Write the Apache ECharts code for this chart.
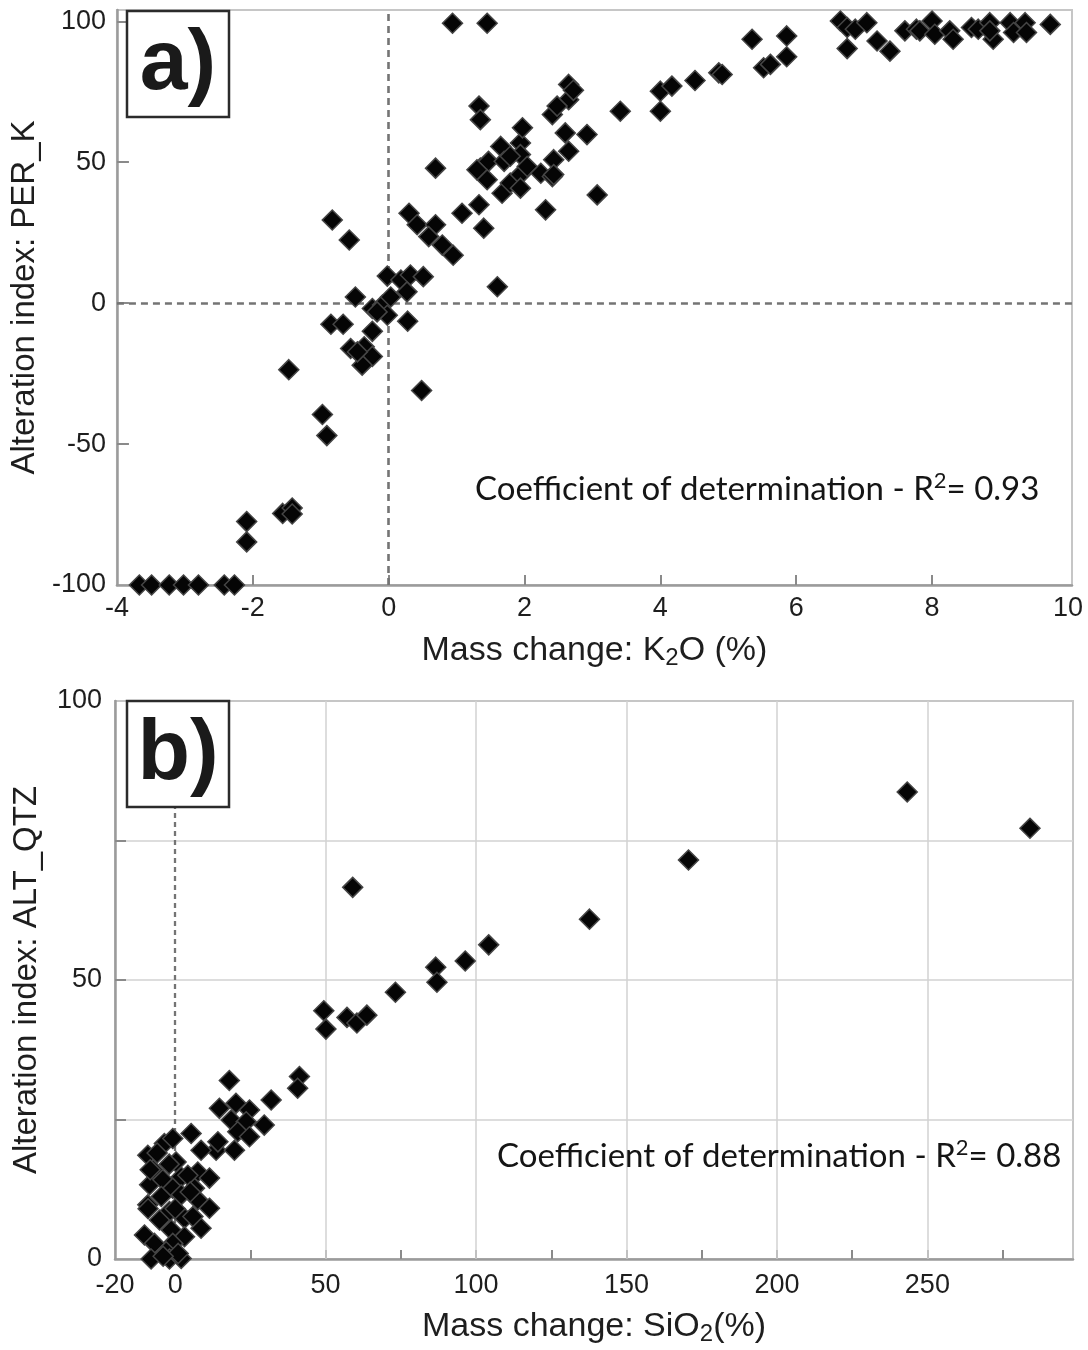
<!DOCTYPE html>
<html>
<head>
<meta charset="utf-8">
<script src="https://cdn.jsdelivr.net/npm/echarts@6/dist/echarts.min.js"></script>
<style>
html,body{margin:0;padding:0;background:#fff;}
#chart{width:1088px;height:1350px;}
</style>
</head>
<body>
<div id="chart"></div>
<script>
// ---------- Panel a: K2O mass change vs PER_K ----------
const k2oChange = [
  -3.67,-3.49,-3.23,-3.02,-2.80,-2.42,-2.27,
  -2.09,-2.09,-1.56,-1.42,-1.42,-0.975,-0.91,-1.47,0.485,
  -0.85,-0.67,-0.49,-0.24,-0.56,-0.36,-0.24,-0.39,-0.46,
  -0.24,-0.09,-0.02,0.03,-0.17,-0.02,0.18,0.32,0.51,0.27,0.28,
  1.60,0.95,0.69,0.30,0.42,0.69,0.59,0.79,
  1.08,1.33,1.40,
  1.35,1.47,1.65,1.70,1.45,1.67,1.79,1.94,1.94,1.94,1.94,2.04,2.24,2.41,2.43,2.65,2.60,2.92,
  2.31,3.07,0.94,1.45,1.33,1.35,
  1.97,1.79,1.30,2.43,2.65,2.41,2.48,2.65,2.72,
  -0.83,-0.58,
  3.41,4.00,4.00,4.17,4.51,4.86,4.91,5.35,5.52,5.62,5.86,5.86,
  6.65,6.75,6.87,7.04,6.75,7.19,7.38,7.60,7.77,7.82,8.00,8.04,8.26,8.31,
  8.58,8.68,8.85,8.90,8.85,9.15,9.20,9.37,9.39,9.74
];
const perK = [
  -100,-100,-100,-100,-100,-100,-100,
  -77.5,-84.7,-74.6,-72.7,-74.8,-39.5,-47,-23.6,-31,
  -7.5,-7.5,2.2,-10,-16.1,-15.5,-18.9,-22,-17.3,
  -1.9,-0.7,-4.3,2.2,-3.1,9.6,8.2,10,9.4,4,-6.4,
  5.8,17,47.9,31.9,27.8,27.8,23.6,20.6,
  31.9,34.9,26.6,
  47.9,50.3,55.6,50.3,43.8,39,42.6,56.8,52.7,45.6,40.8,48.5,46.1,44.9,50.9,53.9,60.4,59.8,
  33.1,38.4,99.3,99.3,69.9,65.1,
  62.2,52.1,47.3,45.6,72.2,66.9,69.9,77.6,75.5,
  29.5,22.4,
  68.1,68.1,75.2,77,79,81.7,81.1,93.6,83.5,84.7,94.8,87.4,
  100.1,97.8,97.2,99.5,90.3,93,89.4,96.6,97.2,96.6,100.1,95.4,96.6,93.6,
  97.8,97.2,99.5,93.6,96.6,99.5,96,99.5,96,98.9
];
const aXLabels = [-4,-2,0,2,4,6,8,10];
const aXTicks = [-2,0,2,4,6,8];
const aYLabels = [-100,-50,0,50,100];
const aYTicks = [-50,0,50,100];
const aRefLines = [0];

// ---------- Panel b: SiO2 mass change vs ALT_QTZ ----------
const sio2Change = [
  284.1,243.3,170.6,137.7,104.2,96.4,86.6,87.0,73.2,59.0,
  49.4,50.1,57.1,60.4,63.7,41.3,40.7,18.0,31.9,
  14.7,20.2,24.7,18.6,23.6,29.6,20.8,24.7,13.6,19.7,14.2,
  5.3,8.6,-3.6,-0.8,-9.1,
  -7.4,0.3,7.5,11.4,-8.5,-4.1,2.0,-0.8,6.4,-4.6,2.0,-9.1,-1.9,3.1,7.5,11.4,
  -5.2,-10.2,8.6,-1.3,3.1,-0.8,-6.9,-3.0,-8.0,-1.9,2.0,4.2,5.9,
  -8.3,-6.0,-2.0,5.0,0.0,1.0,-4.0,-9.0
];
const altQtz = [
  77.2,83.7,71.5,60.9,56.3,53.4,52.3,49.6,47.8,66.6,
  44.5,41.2,43.3,42.3,43.7,32.7,30.6,32.0,28.5,
  27.0,27.9,26.7,24.9,24.6,24.0,22.8,21.9,19.5,19.5,21.0,
  22.5,19.5,20.7,21.6,18.6,
  16.0,17.4,15.6,14.5,13.3,14.2,14.7,12.7,12.7,11.2,11.5,9.7,8.5,7.3,10.6,9.1,
  7.0,4.3,5.5,5.2,4.0,2.8,2.8,1.3,0.0,0.0,0.1,15.0,7.6,
  16.0,19.0,17.0,12.0,9.0,1.0,0.5,9.0
];
const bXLabels = [-20,0,50,100,150,200,250];
const bXTicks = [25,50,75,100,125,150,175,200,225,250,275];
const bXGrid = [50,100,150,200,250];
const bYLabels = [0,50,100];
const bYTicks = [25,50,75];
const bRefLines = [0];

const r2a = '0.93';
const r2b = '0.88';

function pairs(xs, ys){ return xs.map((x,i)=>[x, ys[i]]); }

const tickFont = 'Liberation Sans';
const axisLineStyle = {color:'#9b9b9b', width:2.5};
const tickLineStyle = {color:'#8a8a8a', width:2};
const labelStyle = {fontSize:27, color:'#1e1e1e', fontFamily:tickFont};
const nameRich = {
  n:{fontSize:34, fontFamily:tickFont, color:'#1e1e1e'},
  s:{fontSize:24, fontFamily:tickFont, color:'#1e1e1e', verticalAlign:'bottom', padding:[14,0,0,0]}
};
const diamond = {
  type:'scatter', symbol:'diamond', symbolSize:20,
  itemStyle:{color:'#050505', opacity:1, borderColor:'#454545', borderWidth:1.5},
  z:5
};

const chart = echarts.init(document.getElementById('chart'), null, {renderer:'canvas'});
const annRich = {
  n:{fontSize:33, fontFamily:'Lato', fill:'#151515', lineHeight:39},
  s:{fontSize:22, fontFamily:'Lato', fill:'#151515', verticalAlign:'top', lineHeight:39}
};
chart.setOption({
  animation:false,
  backgroundColor:'#fff',
  grid:[
    {left:116, top:10, width:956, height:575, show:true, borderColor:'#c6c6c6', borderWidth:2},
    {left:115, top:701, width:958, height:558, show:true, borderColor:'#c6c6c6', borderWidth:2}
  ],
  xAxis:[
    {gridIndex:0, type:'value', min:-4, max:10.06,
     splitLine:{show:false},
     axisLine:{onZero:false, lineStyle:axisLineStyle},
     axisTick:{inside:true, length:10, customValues:aXTicks, lineStyle:tickLineStyle},
     axisLabel:Object.assign({customValues:aXLabels, margin:10}, labelStyle),
     name:'{n|Mass change: K}{s|2}{n|O (%)}', nameLocation:'middle', nameGap:47,
     nameTextStyle:{rich:nameRich}},
    {gridIndex:1, type:'value', min:-20, max:298.4,
     splitLine:{show:false},
     axisLine:{onZero:false, lineStyle:axisLineStyle},
     axisTick:{inside:true, length:9, customValues:bXTicks, lineStyle:tickLineStyle},
     axisLabel:Object.assign({customValues:bXLabels, margin:13}, labelStyle),
     name:'{n|Mass change: SiO}{s|2}{n|(%)}', nameLocation:'middle', nameGap:49,
     nameTextStyle:{rich:nameRich}}
  ],
  yAxis:[
    {gridIndex:0, type:'value', min:-100, max:104,
     splitLine:{show:false},
     axisLine:{onZero:false, lineStyle:axisLineStyle},
     axisTick:{inside:true, length:12, customValues:aYTicks, lineStyle:tickLineStyle},
     axisLabel:Object.assign({customValues:aYLabels, margin:11}, labelStyle),
     name:'Alteration index: PER_K', nameLocation:'middle', nameGap:72,
     nameTextStyle:{fontSize:33, fontFamily:tickFont, color:'#1e1e1e'}},
    {gridIndex:1, type:'value', min:0, max:100, interval:50,
     splitLine:{show:true, lineStyle:{color:'#d2d2d2', width:1.5}},
     axisLine:{onZero:false, lineStyle:axisLineStyle},
     axisTick:{inside:true, length:11, customValues:bYTicks, lineStyle:tickLineStyle},
     axisLabel:Object.assign({customValues:bYLabels, margin:13}, labelStyle),
     name:'Alteration index: ALT_QTZ', nameLocation:'middle', nameGap:72,
     nameTextStyle:{fontSize:33, fontFamily:tickFont, color:'#1e1e1e'}}
  ],
  series:[
    {type:'line', xAxisIndex:0, yAxisIndex:0, data:[], z:2,
     markLine:{silent:true, symbol:'none', label:{show:false},
       lineStyle:{type:[7,5], color:'#747474', width:2.6},
       data:aRefLines.map(v=>({xAxis:v})).concat(aRefLines.map(v=>({yAxis:v})))}},
    Object.assign({xAxisIndex:0, yAxisIndex:0, data:pairs(k2oChange, perK)}, diamond),
    {type:'line', xAxisIndex:1, yAxisIndex:1, data:[], z:1,
     markLine:{silent:true, symbol:'none', label:{show:false},
       lineStyle:{type:'solid', color:'#d2d2d2', width:1.5},
       data:bXGrid.map(v=>({xAxis:v}))}},
    {type:'line', xAxisIndex:1, yAxisIndex:1, data:[], z:2,
     markLine:{silent:true, symbol:'none', label:{show:false},
       lineStyle:{type:[5,4], color:'#747474', width:2.3},
       data:bRefLines.map(v=>({xAxis:v}))}},
    Object.assign({xAxisIndex:1, yAxisIndex:1, data:pairs(sio2Change, altQtz)}, diamond)
  ],
  graphic:[
    {type:'rect', x:127, y:11, shape:{width:102, height:106}, z:100,
     style:{fill:'#fff', stroke:'#2b2b2b', lineWidth:2.5}},
    {type:'text', x:178, y:65, z:101,
     style:{text:'a)', font:'bold 86px "Liberation Sans", Arial, sans-serif', fill:'#1a1a1a', align:'center', verticalAlign:'middle'}},
    {type:'rect', x:127, y:701, shape:{width:102, height:106}, z:100,
     style:{fill:'#fff', stroke:'#2b2b2b', lineWidth:2.5}},
    {type:'text', x:178, y:755, z:101,
     style:{text:'b)', font:'bold 86px "Liberation Sans", Arial, sans-serif', fill:'#1a1a1a', align:'center', verticalAlign:'middle'}},
    {type:'text', x:475, y:489, z:101,
     style:{text:'{n|Coefficient of determination - R}{s|2}{n|= '+r2a+'}', rich:annRich, verticalAlign:'middle'}},
    {type:'text', x:497, y:1156, z:101,
     style:{text:'{n|Coefficient of determination - R}{s|2}{n|= '+r2b+'}', rich:annRich, verticalAlign:'middle'}}
  ]
});
</script>
</body>
</html>
